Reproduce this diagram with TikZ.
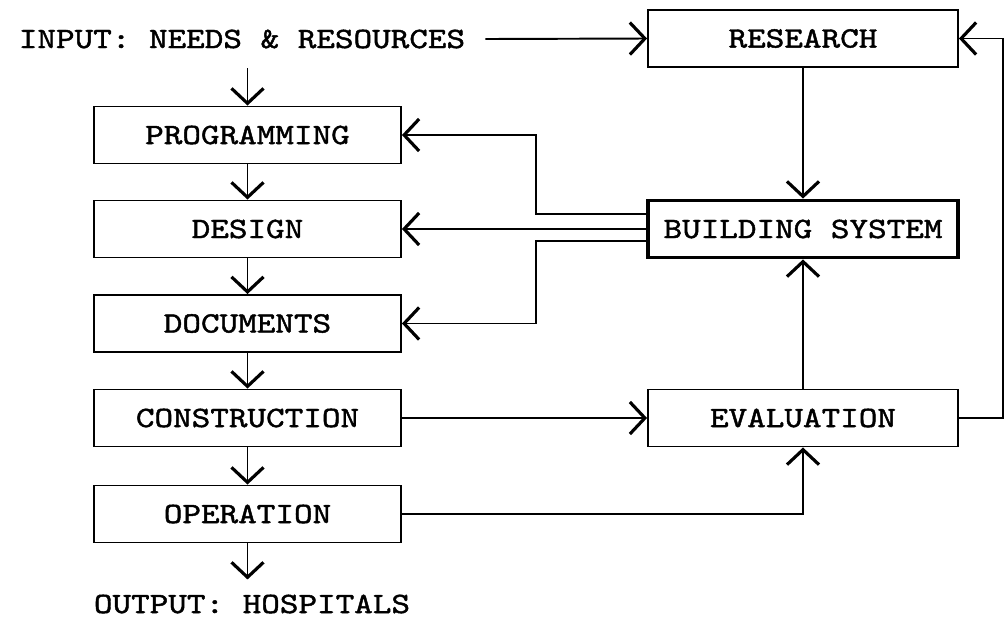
\documentclass[tikz,border=0pt]{standalone}
\usepackage{fontspec}
\newfontfamily\typewriter[FakeStretch=1.2, FakeBold=1.5]{lmmono10-regular.otf}
\usetikzlibrary{arrows.meta,calc}

\tikzset{
  stage/.style={draw, line width=1.1pt, minimum width=6.14cm, minimum height=1.14cm, inner sep=0pt},
  hub/.style={stage, line width=2.2pt, minimum width=6.2cm},
  flow/.style={line width=1.1pt, -{Straight Barb[length=0.3cm,width=0.64cm,line width=1.8pt]}},
  link/.style={line width=1.1pt},
}

\begin{document}
\begin{tikzpicture}[x=0.02cm, y=-0.02cm, font=\typewriter\fontsize{16.8}{20}\selectfont]
\useasboundingbox (0,0) rectangle (1005,620);

\node (input) at (242,39) {INPUT: NEEDS \& RESOURCES};
\node[stage] (programming) at (247.5,135) {PROGRAMMING};
\node[stage] (design) at (247.5,229) {DESIGN};
\node[stage] (documents) at (247.5,323.5) {DOCUMENTS};
\node[stage] (construction) at (247.5,418) {CONSTRUCTION};
\node[stage] (operation) at (247.5,514) {OPERATION};
\node (output) at (252,604) {OUTPUT: HOSPITALS};

\node[stage, minimum width=6.2cm] (research) at (803,38.5) {RESEARCH};
\node[hub] (building) at (803,229) {BUILDING SYSTEM};
\node[stage, minimum width=6.2cm] (evaluation) at (803,418) {EVALUATION};
\coordinate (edge) at (1003,418);

\draw[flow] (247.5,68) -- (programming.north);
\draw[flow] (programming) -- (design);
\draw[flow] (design) -- (documents);
\draw[flow] (documents) -- (construction);
\draw[flow] (construction) -- (operation);
\draw[flow] (operation.south) -- ++(0,36);

\draw[flow] ([xshift=8pt]input.east) -- (research.west);
\draw[flow] (research) -- (building);
\draw[flow] (evaluation) -- (building);
\draw[flow] (construction) -- (evaluation);
\draw[flow] (operation.east) -| (evaluation.south);
\draw[flow] (evaluation.east) -- (edge) |- (research.east);

\draw[flow] ($(building.west)+(0,-15)$) -- ++(-110,0) |- (programming.east);
\draw[flow] (building.west) -- (design.east);
\draw[flow] ($(building.west)+(0,12)$) -- ++(-110,0) |- (documents.east);
\end{tikzpicture}
\end{document}
